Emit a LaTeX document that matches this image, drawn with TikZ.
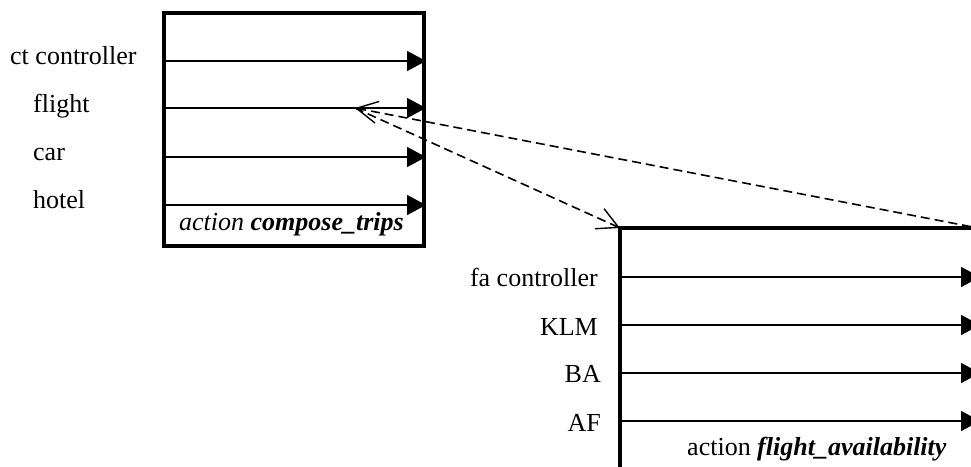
\documentclass[tikz,border=0pt]{standalone}
\usepackage{fontspec}
\setmainfont{Liberation Serif}
\usetikzlibrary{arrows.meta}

\tikzset{
  frame/.style={line width=3.6pt, line join=miter},
  wire/.style={line width=1.6pt, -{Triangle[length=19pt,width=20pt]}},
  link/.style={line width=1.6pt, dash pattern=on 9pt off 5pt,
               {Straight Barb[length=21pt,width=22pt,line width=1.4pt]}-},
  linkboth/.style={link, -{Straight Barb[length=21pt,width=22pt,line width=1.4pt]}},
  lbl/.style={inner sep=0pt, font=\fontsize{26}{30}\selectfont},
}

\begin{document}
\begin{tikzpicture}[x=1pt, y=-1pt]
  \path[use as bounding box, clip] (0,0) rectangle (971,466);

  % ---- action compose_trips ----
  \coordinate (ctNW) at (164,13);
  \coordinate (ctSE) at (424,246);
  \draw[frame] (ctNW) rectangle (ctSE);

  \foreach \n/\y in {ctc/61, fl/108, car/157, ho/205} {
    \coordinate (\n-in)  at (164,\y);
    \coordinate (\n-out) at (426,\y);
    \draw[wire] (\n-in) -- (\n-out);
  }
  \node[lbl, anchor=base west] (l-ctc) at (10,64)  {ct controller};
  \node[lbl, anchor=base west] (l-fl)  at (33,112) {flight};
  \node[lbl, anchor=base west] (l-car) at (33,160) {car};
  \node[lbl, anchor=base west] (l-ho)  at (33,208) {hotel};
  \node[lbl, anchor=base west] (ct-name) at (179,230)
       {\itshape action \bfseries compose\_trips};

  % ---- action flight_availability ----
  \coordinate (faNW) at (620,228);
  \coordinate (faSE) at (978,520);
  \draw[frame] (faNW) rectangle (faSE);

  \foreach \n/\y in {fac/277, klm/325, ba/373, af/421} {
    \coordinate (\n-in)  at (620,\y);
    \coordinate (\n-out) at (980,\y);
    \draw[wire] (\n-in) -- (\n-out);
  }
  \node[lbl, anchor=base east] (l-fac) at (598,286) {fa controller};
  \node[lbl, anchor=base east] (l-klm) at (598,335) {KLM};
  \node[lbl, anchor=base east] (l-ba)  at (601,382) {BA};
  \node[lbl, anchor=base east] (l-af)  at (601,431) {AF};
  \node[lbl, anchor=base west] (fa-name) at (687,455)
       {action \bfseries\itshape flight\_availability};

  % ---- refinement links ----
  \coordinate (hook) at (355,108);
  \coordinate (faNE) at (978,228);
  \draw[linkboth] (hook) -- (faNW);
  \draw[link] (hook) -- (faNE);
\end{tikzpicture}
\end{document}
